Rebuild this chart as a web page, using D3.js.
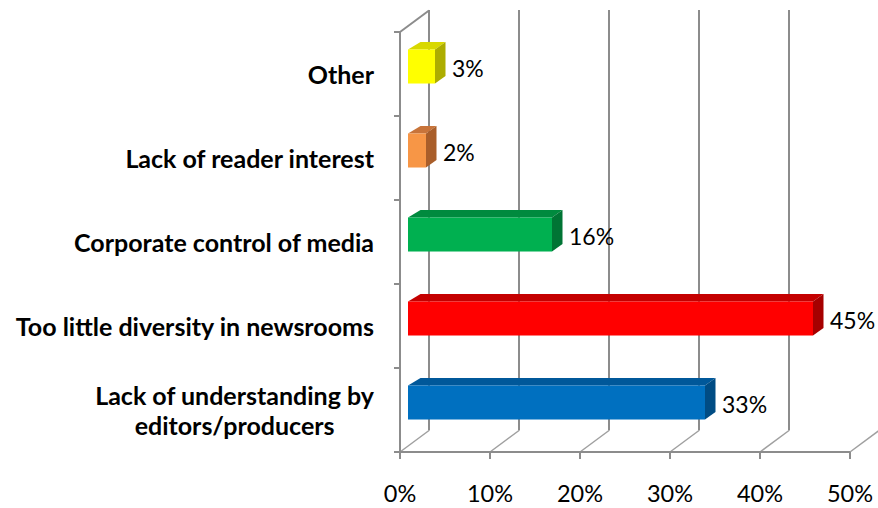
<!DOCTYPE html>
<html><head><meta charset="utf-8">
<script src="https://cdn.jsdelivr.net/npm/d3@7"></script>
<style>html,body{margin:0;padding:0;background:#fff;}svg{display:block;}</style>
</head><body>
<svg id="c" width="878" height="508"></svg>
<script>
// Data (bottom to top as drawn)
const categories = ["Lack of understanding by editors/producers", "Too little diversity in newsrooms", "Corporate control of media", "Lack of reader interest", "Other"];
const values = [33, 45, 16, 2, 3];
const tickValues = [0, 10, 20, 30, 40, 50];
const tickLabels = ["0%", "10%", "20%", "30%", "40%", "50%"];
const valueLabels = ["33%", "45%", "16%", "2%", "3%"];

// Styles
const frontColors = ["#0070C0", "#FF0000", "#00B050", "#F79646", "#FFFF00"];
const topColors   = ["#00589A", "#C40000", "#008A3E", "#C8743A", "#D8D800"];
const sideColors  = ["#004C84", "#A60000", "#007434", "#A95E2A", "#ADAD00"];

const svg = d3.select("#c");
const font = "Lato, 'Open Sans', sans-serif";

const x = d3.scaleLinear().domain([0, 50]).range([400, 850]);
const y = d3.scaleBand().domain(categories).range([452, 32]).padding(0);

const DX = 29, DY = -21.5;      // full floor depth offset
const FX = 8, FY = -7.5;        // bar front-face offset
const BX = 18.5, BY = -15;      // bar back-face offset
const barRatio = 0.405;

const grid = "#8c8c8c";
const g = svg.append("g");

// back wall vertical gridlines
g.selectAll("line.bg").data(tickValues).join("line")
  .attr("x1", d => x(d) + DX).attr("x2", d => x(d) + DX)
  .attr("y1", 452 + DY).attr("y2", 10)
  .attr("stroke", grid).attr("stroke-width", 2);

// floor diagonals
g.selectAll("line.fd").data(tickValues).join("line")
  .attr("x1", d => x(d)).attr("y1", 452)
  .attr("x2", d => x(d) + DX).attr("y2", 452 + DY)
  .attr("stroke", "#a0a0a0").attr("stroke-width", 1.5);

// front floor line
g.append("line").attr("x1", x(0)).attr("x2", x(50)).attr("y1", 452).attr("y2", 452)
  .attr("stroke", grid).attr("stroke-width", 2);
// x ticks
g.selectAll("line.xt").data(tickValues).join("line")
  .attr("x1", d => x(d)).attr("x2", d => x(d)).attr("y1", 452).attr("y2", 459)
  .attr("stroke", grid).attr("stroke-width", 2);

// left wall
g.append("line").attr("x1", x(0)).attr("x2", x(0)).attr("y1", 452).attr("y2", 32)
  .attr("stroke", grid).attr("stroke-width", 2);
g.append("line").attr("x1", x(0)).attr("y1", 32).attr("x2", x(0) + DX).attr("y2", 32 + DY)
  .attr("stroke", grid).attr("stroke-width", 2);
const bounds = categories.map(c => y(c)).concat([y(categories[0]) + y.bandwidth()]);
g.selectAll("line.yt").data(bounds).join("line")
  .attr("x1", x(0) - 6).attr("x2", x(0)).attr("y1", d => d).attr("y2", d => d)
  .attr("stroke", grid).attr("stroke-width", 2);

// bars
const bars = svg.append("g");
categories.forEach((c, i) => {
  const v = values[i];
  const yc = y(c) + y.bandwidth() / 2;
  const h = y.bandwidth() * barRatio;
  const yt = yc - h / 2, yb = yc + h / 2;
  const x0 = x(0), x1 = x(v);
  bars.append("polygon").attr("points", [
    [x0 + FX, yt + FY], [x1 + FX, yt + FY], [x1 + BX, yt + BY], [x0 + BX + 2, yt + BY]
  ].map(p => p.join(",")).join(" ")).attr("fill", topColors[i]);
  bars.append("polygon").attr("points", [
    [x1 + FX, yt + FY], [x1 + BX, yt + BY], [x1 + BX, yb + BY], [x1 + FX, yb + FY]
  ].map(p => p.join(",")).join(" ")).attr("fill", sideColors[i]);
  bars.append("rect").attr("x", x0 + FX).attr("y", yt + FY)
    .attr("width", x1 - x0).attr("height", h).attr("fill", frontColors[i]);
  bars.append("text").attr("x", x1 + FX + 17).attr("y", yc + FY + 1.5)
    .attr("dominant-baseline", "central").attr("font-family", font)
    .attr("font-size", 23).attr("fill", "#000").text(valueLabels[i]);
});

// x tick labels
svg.selectAll("text.xl").data(tickValues).join("text")
  .attr("x", d => x(d)).attr("y", 493).attr("text-anchor", "middle")
  .attr("dominant-baseline", "central").attr("font-family", font)
  .attr("font-size", 23.5).attr("fill", "#000").text((d, i) => tickLabels[i]);

// category labels (wrapped, centered block, right aligned)
const catSize = 25, maxW = 372, right = 374, lineH = 30;
categories.forEach(c => {
  const yc = y(c) + y.bandwidth() / 2;
  const t = svg.append("text").attr("font-family", font).attr("font-size", catSize)
    .attr("font-weight", "bold").attr("fill", "#000").attr("text-anchor", "middle")
    .attr("dominant-baseline", "central");
  const words = c.split(" ");
  const lines = [];
  let cur = [];
  const meas = svg.append("text").attr("font-family", font).attr("font-size", catSize).attr("font-weight", "bold");
  words.forEach(w => {
    const test = cur.concat([w]).join(" ");
    meas.text(test);
    if (meas.node().getComputedTextLength() > maxW && cur.length) { lines.push(cur.join(" ")); cur = [w]; }
    else cur.push(w);
  });
  lines.push(cur.join(" "));
  let wmax = 0;
  lines.forEach(l => { meas.text(l); wmax = Math.max(wmax, meas.node().getComputedTextLength()); });
  meas.remove();
  const cx = right - wmax / 2;
  const y0 = yc - (lines.length - 1) * lineH / 2;
  lines.forEach((l, k) => {
    t.append("tspan").attr("x", cx).attr("y", y0 + k * lineH).text(l);
  });
});
</script>
</body></html>
